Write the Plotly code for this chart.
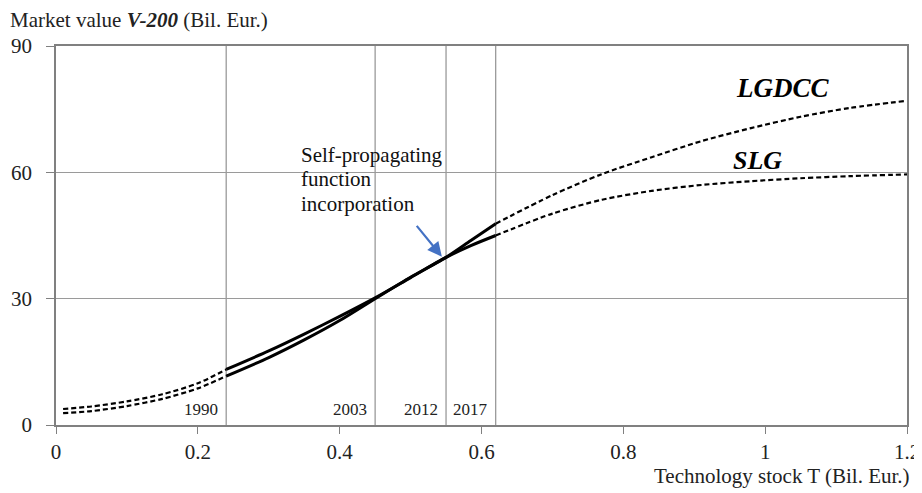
import plotly.graph_objects as go

# ---- data ----
tech_stock = [0.01, 0.05, 0.10, 0.15, 0.20, 0.24, 0.30, 0.35, 0.40, 0.45, 0.50, 0.55,
              0.585, 0.62, 0.70, 0.77, 0.84, 0.91, 0.98, 1.05, 1.12, 1.20]
slg = [3.8, 4.4, 5.6, 7.3, 9.9, 13.2, 17.6, 21.6, 25.8, 30.2, 35.0, 39.8,
       42.6, 45.0, 50.2, 53.5, 55.6, 57.0, 57.9, 58.6, 59.1, 59.5]
lgdcc = [2.8, 3.3, 4.5, 6.2, 8.7, 11.6, 16.0, 20.2, 24.8, 30.0, 35.1, 39.8,
         43.8, 47.8, 54.6, 59.6, 63.6, 67.4, 70.5, 73.2, 75.3, 77.0]
observed_start = 0.24
observed_end = 0.62
year_x = [0.24, 0.45, 0.55, 0.62]
year_labels = ["1990", "2003", "2012", "2017"]
y_ticks = [0, 30, 60, 90]
x_ticks = [0, 0.2, 0.4, 0.6, 0.8, 1.0, 1.2]
x_tick_labels = ["0", "0.2", "0.4", "0.6", "0.8", "1", "1.2"]
arrow_point = (0.545, 39.8)

FONT = "Liberation Serif, Times New Roman, serif"
GRID = "#9a9a9a"

fig = go.Figure()


def add_series(ys):
    pre = [(x, y) for x, y in zip(tech_stock, ys) if x <= observed_start]
    mid = [(x, y) for x, y in zip(tech_stock, ys) if observed_start <= x <= observed_end]
    post = [(x, y) for x, y in zip(tech_stock, ys) if x >= observed_end]
    for seg, dash, w in [(pre, "5px,3px", 2.2), (mid, "solid", 3), (post, "5px,3px", 2.2)]:
        fig.add_trace(go.Scatter(
            x=[p[0] for p in seg], y=[p[1] for p in seg], mode="lines",
            line=dict(color="black", width=w, dash=dash, shape="spline", smoothing=0.8),
            showlegend=False, hoverinfo="skip"))


add_series(slg)
add_series(lgdcc)

# vertical year lines
for xv in year_x:
    fig.add_shape(type="line", x0=xv, x1=xv, y0=0, y1=90, xref="x", yref="y",
                  line=dict(color=GRID, width=1.3), layer="below")

for xv, lab in zip(year_x, year_labels):
    fig.add_annotation(x=xv, y=3.6, xref="x", yref="y", text=lab, showarrow=False,
                       xanchor="right", yanchor="middle", xshift=-6,
                       font=dict(family=FONT, size=17, color="#222"))

# series labels
fig.add_annotation(x=1.024, y=80.0, xref="x", yref="y", text="<b><i>LGDCC</i></b>",
                   showarrow=False, font=dict(family=FONT, size=27, color="black"))
fig.add_annotation(x=0.989, y=62.9, xref="x", yref="y", text="<b><i>SLG</i></b>",
                   showarrow=False, font=dict(family=FONT, size=26, color="black"),
                   xanchor="center")

# self-propagating annotation text
for i, line in enumerate(["Self-propagating", "function", "incorporation"]):
    fig.add_annotation(x=0.342, y=64.0 - i * 5.7, xref="x", yref="y", text=line,
                       showarrow=False, xanchor="left", yanchor="middle",
                       font=dict(family=FONT, size=21, color="#111"))

# arrow
fig.add_annotation(x=arrow_point[0], y=arrow_point[1], xref="x", yref="y", text="",
                   showarrow=True, ax=-27, ay=-33, arrowcolor="#4472C4",
                   arrowwidth=2.2, arrowhead=2, arrowsize=1.3, standoff=1)

# axis titles
fig.add_annotation(x=0, y=1, xref="paper", yref="paper",
                   text="Market value <b><i>V-200</i></b> (Bil. Eur.)",
                   showarrow=False, xanchor="left", yanchor="middle",
                   xshift=-48, yshift=26, font=dict(family=FONT, size=21, color="#222"))
fig.add_annotation(x=1, y=0, xref="paper", yref="paper",
                   text="Technology stock T (Bil. Eur.)",
                   showarrow=False, xanchor="right", yanchor="middle",
                   xshift=5, yshift=-51, font=dict(family=FONT, size=21, color="#222"))

# page body has an 8px margin, so the figure is sized and offset to compensate
fig.update_layout(
    width=914, height=485,
    margin=dict(l=48, r=15, t=38, b=68, autoexpand=False),
    paper_bgcolor="white", plot_bgcolor="white",
    showlegend=False,
    font=dict(family=FONT, size=21, color="#222"),
)
fig.update_xaxes(range=[0, 1.2], tickvals=x_ticks, ticktext=x_tick_labels, automargin=False,
                 ticklabeloverflow="allow",
                 showgrid=False, zeroline=False, showline=True, linecolor="#808080",
                 linewidth=1.5, mirror=True, ticks="outside", ticklen=7, tickcolor="#808080",
                 tickwidth=1.3, tickfont=dict(family=FONT, size=21, color="#222"))
fig.update_yaxes(range=[0, 90], tickvals=y_ticks, showgrid=True, gridcolor=GRID, gridwidth=1.3,
                 automargin=False,
                 zeroline=False, showline=True, linecolor="#808080", linewidth=1.5,
                 mirror=True, ticks="outside", ticklen=8, tickcolor="#808080", tickwidth=1.3,
                 ticklabelstandoff=10, tickfont=dict(family=FONT, size=21, color="#222"))

fig.write_html("out.html")
